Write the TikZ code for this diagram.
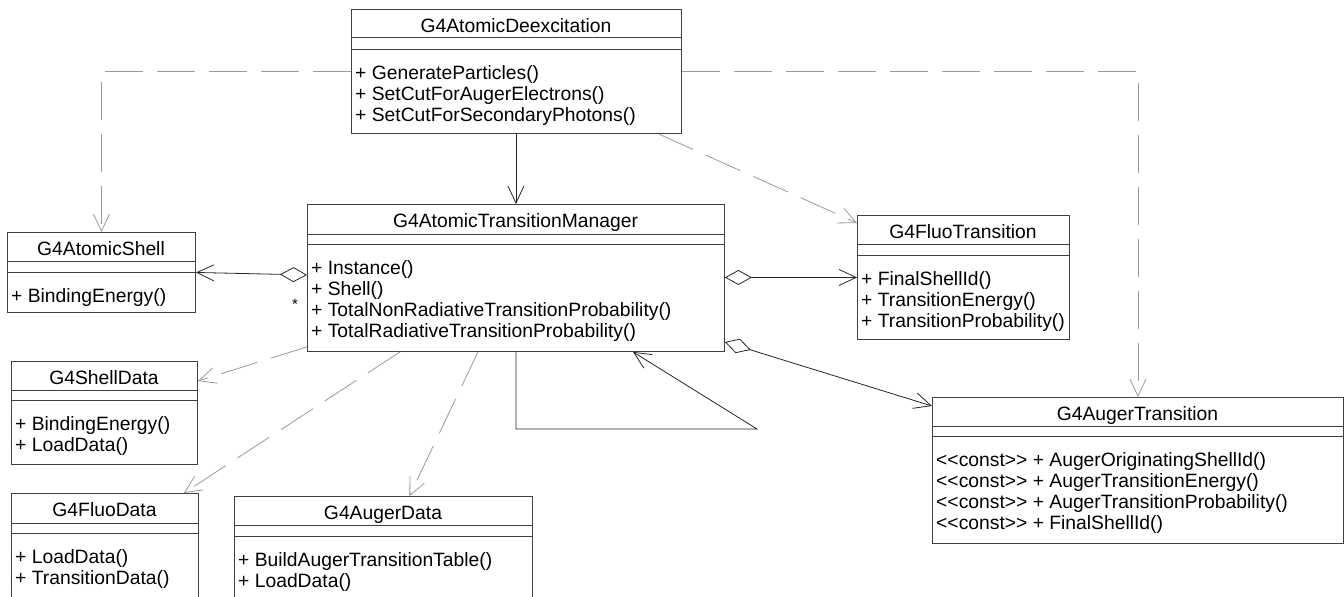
\documentclass[tikz,border=0pt]{standalone}
\usepackage{fontspec}
\setmainfont{Liberation Sans}
\usetikzlibrary{arrows.meta}
\tikzset{
  cls/.style={draw=black!75, line width=0.9pt, fill=white, inner sep=0pt, anchor=north west},
  sepline/.style={draw=black!75, line width=0.9pt},
  ttl/.style={anchor=base, inner sep=0pt, font=\fontsize{19.3}{21}\selectfont},
  op/.style={anchor=base west, inner sep=0pt, font=\fontsize{19.3}{21}\selectfont},
  dep/.style={draw=black!40, line width=0.8pt, dash pattern=on 38pt off 14pt, -{Straight Barb[length=17pt,width=16pt]}},
  assoc/.style={draw=black!85, line width=0.8pt, -{Straight Barb[length=17pt,width=16pt]}},
  agg/.style={draw=black!85, line width=0.8pt, {Diamond[open,length=27pt,width=15pt]}-{Straight Barb[length=17pt,width=16pt]}},
  mult/.style={inner sep=0pt, font=\fontsize{15}{15}\selectfont},
}
% #1 name, #2 x1, #3 y1, #4 x2, #5 y2, #6 sep1, #7 sep2, #8 title, #9 operations
\newcommand\umlbox[9]{%
  \node[cls, minimum width={#4-#2}, minimum height={#5-#3}] (#1) at (#2,#3) {};
  \draw[sepline] (#2,#6) -- (#4,#6) (#2,#7) -- (#4,#7);
  \node[ttl] (#1-t) at ({(#2+#4)/2},#3+23) {#8};
  \foreach \opx [count=\opn] in {#9}
    \node[op] (#1-\opn) at (#2+4,{#7+30.5+21*(\opn-1)}) {\opx};
}
\newcommand\cst{<\kern0pt<const>\kern0pt> + }
\begin{document}
\begin{tikzpicture}[x=1pt,y=-1pt]
\useasboundingbox (0,0) rectangle (1344,597);
\clip (0,0) rectangle (1344,597);

\umlbox{dex}{351}{9}{681}{133}{37}{49}{G4AtomicDeexcitation}{+ GenerateParticles(),+ SetCutForAugerElectrons(),+ SetCutForSecondaryPhotons()}
\umlbox{shell}{7}{232}{195}{312}{261}{272}{G4AtomicShell}{+ BindingEnergy()}
\umlbox{mgr}{307}{204}{724}{351}{234}{244}{G4AtomicTransitionManager}{+ Instance(),+ Shell(),+ TotalNonRadiativeTransitionProbability(),+ TotalRadiativeTransitionProbability()}
\umlbox{fluot}{857}{215}{1069}{339}{244}{255}{G4FluoTransition}{+ FinalShellId(),+ TransitionEnergy(),+ TransitionProbability()}
\umlbox{augt}{932}{397}{1343}{543}{426}{436}{G4AugerTransition}{\cst AugerOriginatingShellId(),\cst AugerTransitionEnergy(),\cst AugerTransitionProbability(),\cst FinalShellId()}
\umlbox{shd}{11}{361}{197}{464}{390}{400}{G4ShellData}{+ BindingEnergy(),+ LoadData()}
\umlbox{fd}{11}{493}{198}{640}{523}{533}{G4FluoData}{+ LoadData(),+ TransitionData()}
\umlbox{ad}{234}{496}{532}{640}{525}{536}{G4AugerData}{+ BuildAugerTransitionTable(),+ LoadData()}

% dependencies from G4AtomicDeexcitation
\draw[dep] (dex.west) -| (shell.north);
\draw[dep] (dex.east) -| (augt.north);
\draw[dep] ([xshift=142pt]dex.south) -- ([yshift=-8pt]fluot.north west);
\draw[assoc] (dex.south -| mgr.north) -- (mgr.north);

% aggregations of the manager
\draw[agg] ([yshift=3pt]mgr.west) -- (shell.east);
\node[mult] (star) at ([xshift=-12pt,yshift=-26pt]mgr.west) {*};
\draw[agg] (mgr.east |- fluot.west) -- (fluot.west);
\draw[agg] ([yshift=-64pt]mgr.east) -- ([yshift=-9pt]augt.north west);

% self association
\coordinate (selfc) at (757,429);
\draw[assoc] (mgr.south) |- (selfc) -- ([xshift=117pt]mgr.south);

% dependencies to data classes
\draw[dep] ([yshift=5pt]mgr.south west) -- ([yshift=-20pt]shd.north east);
\draw[dep] ([xshift=93pt]mgr.south west) -- ([xshift=-15pt]fd.north east);
\draw[dep] ([xshift=171pt]mgr.south west) -- ([xshift=26pt]ad.north);
\end{tikzpicture}
\end{document}
